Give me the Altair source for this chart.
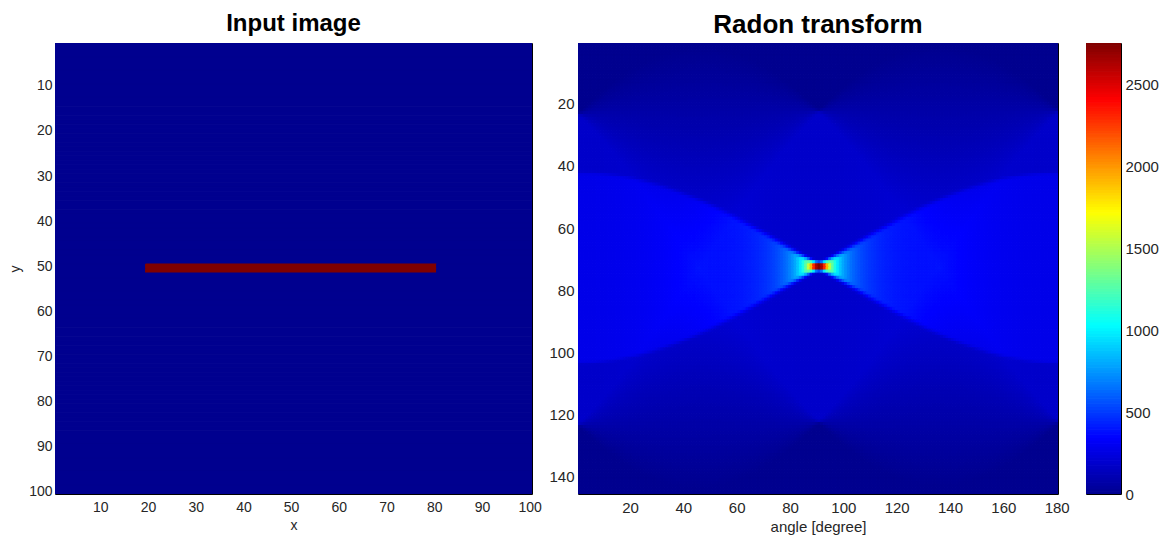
import numpy as np
import pandas as pd
import altair as alt

# ---------------- data: the input image ----------------
IMG_SIZE = 100
BACKGROUND = 1.8          # value of the square background
LINE_VALUE = 50.0         # value of the bright line
LINE_ROWS = [50, 51]      # image rows covered by the line
LINE_COL_START = 20
LINE_COL_END = 80
THETA = list(range(0, 180))   # projection angles (deg), shown as columns 1..180

X_TICKS_LEFT = [10, 20, 30, 40, 50, 60, 70, 80, 90, 100]
Y_TICKS_LEFT = [10, 20, 30, 40, 50, 60, 70, 80, 90, 100]
X_TICKS_RIGHT = [20, 40, 60, 80, 100, 120, 140, 160, 180]
Y_TICKS_RIGHT = [20, 40, 60, 80, 100, 120, 140]
CBAR_TICKS = [0, 500, 1000, 1500, 2000, 2500]

img = np.full((IMG_SIZE, IMG_SIZE), BACKGROUND)
for r in LINE_ROWS:
    img[r - 1, LINE_COL_START - 1:LINE_COL_END] = LINE_VALUE

# run-length cells of the input image (one rect per run of equal values)
runs = []
for r in range(IMG_SIZE):
    row = img[r]
    start = 0
    for c in range(1, IMG_SIZE + 1):
        if c == IMG_SIZE or row[c] != row[start]:
            runs.append({"row": r + 1, "c0": start + 1, "c1": c, "value": float(row[start])})
            start = c
df_img = pd.DataFrame(runs)

# ---------------- Radon transform of the image ----------------
center = (IMG_SIZE + 1) // 2
rlast = int(np.ceil(np.hypot(IMG_SIZE - center, IMG_SIZE - center))) + 1
nbins = 2 * rlast + 1
rr, cc = np.mgrid[1:IMG_SIZE + 1, 1:IMG_SIZE + 1]
xs = (cc - center).ravel().astype(float)
ys = (center - rr).ravel().astype(float)
vals = img.ravel() / 4.0
R = np.zeros((nbins, len(THETA)))
for k, th in enumerate(THETA):
    t = np.deg2rad(th)
    ct, st = np.cos(t), np.sin(t)
    acc = np.zeros(nbins + 2)
    for dx in (-0.25, 0.25):
        for dy in (-0.25, 0.25):
            p = (xs + dx) * ct + (ys + dy) * st + rlast
            i0 = np.floor(p).astype(int)
            fr = p - i0
            acc += np.bincount(i0, weights=vals * (1 - fr), minlength=nbins + 2)[:nbins + 2]
            acc += np.bincount(i0 + 1, weights=vals * fr, minlength=nbins + 2)[:nbins + 2]
    R[:, k] = acc[:nbins]

rad_rows = []
for i in range(nbins):
    for k in range(len(THETA)):
        rad_rows.append({"a": k + 1, "r": i + 1, "v": round(float(R[i, k]), 1)})
df_rad = pd.DataFrame(rad_rows)
RMAX = float(R.max())

cbar_n = 160
df_cbar = pd.DataFrame({"v0": [RMAX * i / cbar_n for i in range(cbar_n)],
                        "v1": [RMAX * (i + 1) / cbar_n for i in range(cbar_n)]})
df_cbar["v"] = RMAX * (np.arange(cbar_n) + 0.5) / cbar_n

# ---------------- jet colormap ----------------
STOPS = [0, 0.125, 0.375, 0.625, 0.875, 1.0]
JET = ["#00008f", "#0000ff", "#00ffff", "#ffff00", "#ff0000", "#800000"]
vmin_img, vmax_img = float(img.min()), float(img.max())
img_scale = alt.Scale(domain=[vmin_img + (vmax_img - vmin_img) * s for s in STOPS],
                      range=JET, interpolate="rgb")
rad_scale = alt.Scale(domain=[RMAX * s for s in STOPS], range=JET, interpolate="rgb")

FONT = "Liberation Sans"
LBL = "#262626"

left = alt.Chart(df_img).transform_calculate(
    x0="datum.c0 - 0.5", x1="datum.c1 + 0.5",
    y0="datum.row - 0.5", y1="datum.row + 0.5"
).mark_rect(clip=True, strokeWidth=1).encode(
    x=alt.X("x0:Q", scale=alt.Scale(domain=[0.5, 100.5], nice=False, zero=False),
            axis=alt.Axis(values=X_TICKS_LEFT, title="x", labelFont=FONT, titleFont=FONT,
                          labelFontSize=14, titleFontSize=14, labelPadding=6, titlePadding=4)),
    x2="x1:Q",
    y=alt.Y("y0:Q", scale=alt.Scale(domain=[0.5, 100.5], nice=False, zero=False, reverse=True),
            axis=alt.Axis(values=Y_TICKS_LEFT, title="y", labelFont=FONT, titleFont=FONT,
                          labelFontSize=14, titleFontSize=14, labelPadding=3, titlePadding=6)),
    y2="y1:Q",
    color=alt.Color("value:Q", scale=img_scale, legend=None),
    stroke=alt.Stroke("value:Q", scale=img_scale, legend=None),
).properties(
    width=477, height=451,
    title=alt.Title("Input image", font=FONT, fontSize=24, fontWeight="bold", color="black", offset=7),
)

right = alt.Chart(df_rad).transform_calculate(
    x0="datum.a - 0.5", x1="datum.a + 0.5",
    y0="datum.r - 0.5", y1="datum.r + 0.5"
).mark_rect(clip=True, strokeWidth=1).encode(
    x=alt.X("x0:Q", scale=alt.Scale(domain=[0.5, 180.5], nice=False, zero=False),
            axis=alt.Axis(values=X_TICKS_RIGHT, title="angle [degree]", labelFont=FONT, titleFont=FONT,
                          labelFontSize=15, titleFontSize=15, labelPadding=6, titlePadding=4)),
    x2="x1:Q",
    y=alt.Y("y0:Q", scale=alt.Scale(domain=[0.5, nbins + 0.5], nice=False, zero=False, reverse=True),
            axis=alt.Axis(values=Y_TICKS_RIGHT, title=None, labelFont=FONT,
                          labelFontSize=15, labelPadding=4)),
    y2="y1:Q",
    color=alt.Color("v:Q", scale=rad_scale, legend=None),
    stroke=alt.Stroke("v:Q", scale=rad_scale, legend=None),
).properties(
    width=480, height=451,
    title=alt.Title("Radon transform", font=FONT, fontSize=26, fontWeight="bold", color="black", offset=5),
)

cbar = alt.Chart(df_cbar).mark_rect(clip=True, strokeWidth=1).encode(
    x=alt.value(0), x2=alt.value(35),
    y=alt.Y("v0:Q", scale=alt.Scale(domain=[0, RMAX], nice=False, zero=False),
            axis=alt.Axis(values=CBAR_TICKS, orient="right", title=None, labelFont=FONT,
                          labelFontSize=15, labelPadding=4, format="d")),
    y2="v1:Q",
    color=alt.Color("v:Q", scale=rad_scale, legend=None),
    stroke=alt.Stroke("v:Q", scale=rad_scale, legend=None),
).properties(width=35, height=451)

inner = alt.HConcatChart(hconcat=[right, cbar], spacing=28, bounds="flush")
chart = alt.HConcatChart(hconcat=[left, inner], spacing=46, bounds="flush").resolve_scale(
    color="independent", stroke="independent", x="independent", y="independent"
).configure_view(
    stroke="black", strokeWidth=1
).configure_axis(
    ticks=False, domain=False, grid=False, labelColor=LBL, titleColor=LBL,
    titleFontWeight="normal"
).properties(
    padding={"left": 0, "top": 3, "right": 5, "bottom": 5}, background="white"
)

chart.save("out.html", embed_options={"renderer": "svg", "actions": False})
